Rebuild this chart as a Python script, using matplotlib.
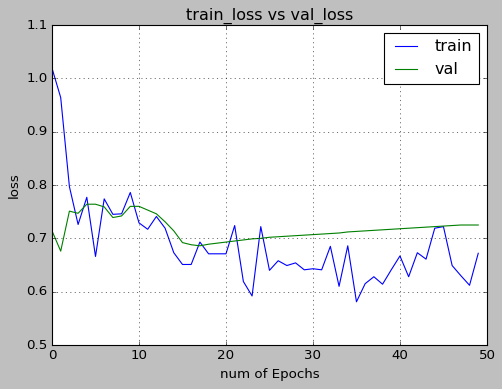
import numpy as np
import matplotlib
matplotlib.use('Agg')
import matplotlib.pyplot as plt

plt.style.use('classic')

epochs=np.arange(50)
train_loss=[1.019,0.964,0.797,0.726,0.777,0.666,0.774,0.745,0.746,0.786,
            0.729,0.717,0.741,0.719,0.673,0.651,0.651,0.693,0.671,0.671,
            0.671,0.724,0.619,0.592,0.722,0.640,0.658,0.649,0.654,0.641,
            0.643,0.641,0.685,0.610,0.686,0.581,0.615,0.628,0.614,0.641,
            0.667,0.628,0.673,0.661,0.719,0.722,0.649,0.630,0.612,0.672]
val_loss=[0.714,0.676,0.751,0.747,0.764,0.764,0.759,0.739,0.742,0.760,
          0.760,0.753,0.746,0.731,0.714,0.692,0.688,0.686,0.689,0.691,
          0.693,0.695,0.697,0.699,0.700,0.702,0.703,0.704,0.705,0.706,
          0.707,0.708,0.709,0.710,0.712,0.713,0.714,0.715,0.716,0.717,
          0.718,0.719,0.720,0.721,0.722,0.723,0.724,0.725,0.725,0.725]

fig=plt.figure(figsize=(502/80,389/80),dpi=80)
fig.patch.set_facecolor('#bfbfbf')
ax=fig.add_axes([0.1036,0.1131,0.8664,0.8226])
ax.plot(epochs,train_loss,label='train')
ax.plot(epochs,val_loss,label='val')
ax.set_title('train_loss vs val_loss')
ax.set_xlabel('num of Epochs')
ax.set_ylabel('loss')
ax.set_xlim(0,50)
ax.set_ylim(0.5,1.1)
ax.grid(True)
ax.legend(loc='upper right')
fig.savefig('out.png',dpi=80,facecolor=fig.get_facecolor())
